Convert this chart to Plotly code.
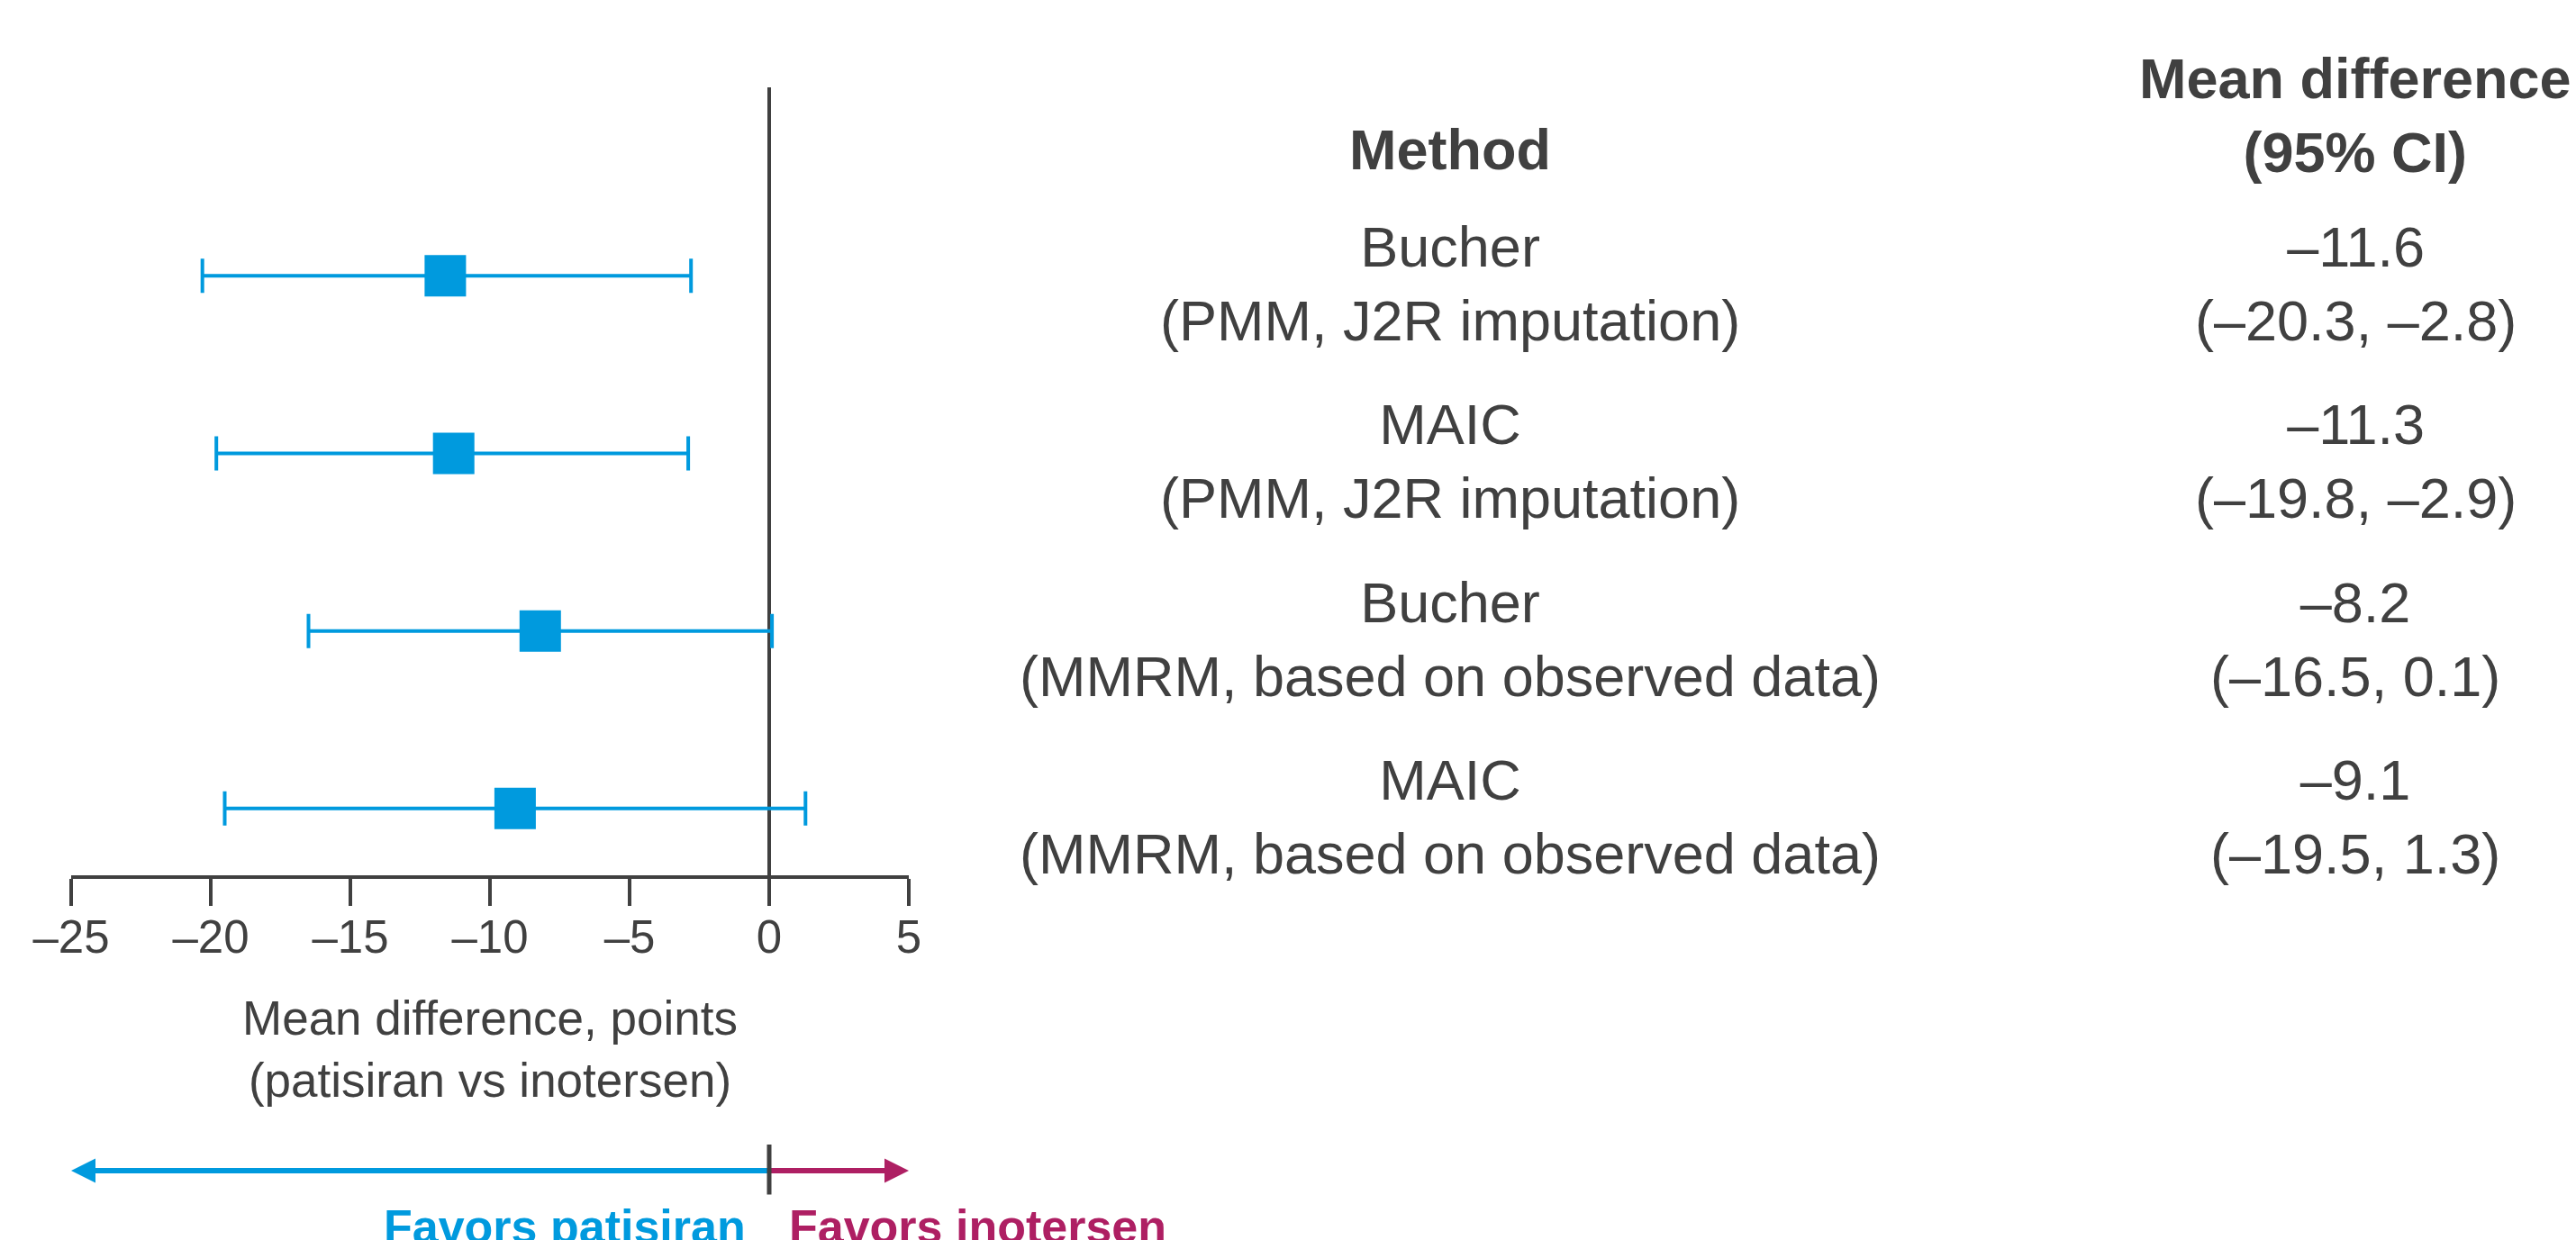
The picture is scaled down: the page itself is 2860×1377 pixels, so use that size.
import plotly.graph_objects as go

# ---------------- data ----------------
methods = ["Bucher", "MAIC", "Bucher", "MAIC"]
submethods = ["(PMM, J2R imputation)", "(PMM, J2R imputation)",
              "(MMRM, based on observed data)", "(MMRM, based on observed data)"]
mean_diff = [-11.6, -11.3, -8.2, -9.1]
ci_low = [-20.3, -19.8, -16.5, -19.5]
ci_high = [-2.8, -2.9, 0.1, 1.3]
tick_vals = [-25, -20, -15, -10, -5, 0, 5]
tick_text = ["–25", "–20", "–15", "–10", "–5", "0", "5"]
x_range = [-25, 5]
header_method = "Method"
header_value = "Mean difference<br>(95% CI)"
axis_title = "Mean difference, points<br>(patisiran vs inotersen)"
favors_left = "Favors patisiran"
favors_right = "Favors inotersen"

# ---------------- style ----------------
W, H = 2860, 1377
BLUE = "#009ADE"
MAGENTA = "#AE1F63"
GREY = "#404040"
FONT = "Liberation Sans, Arial, Helvetica, sans-serif"
TABLE_SIZE = 63

rows = list(range(len(methods)))


def fmt(v):
    return f"{v:.1f}".replace("-", "–")


def py(pix):
    return 1 - pix / H


fig = go.Figure()

fig.add_trace(go.Scatter(
    x=mean_diff, y=rows, mode="markers",
    marker=dict(symbol="square", size=46, color=BLUE, line=dict(width=0)),
    error_x=dict(type="data", symmetric=False,
                 array=[h - m for h, m in zip(ci_high, mean_diff)],
                 arrayminus=[m - l for m, l in zip(mean_diff, ci_low)],
                 color=BLUE, thickness=4, width=19),
    hoverinfo="skip", showlegend=False, cliponaxis=False,
))

y_top, y_bot = -1.061, 3.376

fig.update_layout(
    template="none",
    width=W, height=H,
    margin=dict(l=0, r=0, t=0, b=0, pad=0, autoexpand=False),
    paper_bgcolor="white", plot_bgcolor="white",
    font=dict(family=FONT, color=GREY),
    showlegend=False,
    xaxis=dict(domain=[79 / W, 1009 / W], range=x_range, showgrid=False,
               zeroline=False, showline=True, linecolor=GREY, linewidth=4,
               ticks="outside", ticklen=30, tickwidth=4, tickcolor=GREY,
               tickvals=tick_vals, ticktext=tick_text, automargin=False,
               tickfont=dict(size=51, color=GREY, family=FONT),
               ticklabelstandoff=-9, fixedrange=True),
    yaxis=dict(domain=[py(972), py(97)], range=[y_bot, y_top], visible=False,
               showgrid=False, zeroline=False, fixedrange=True, automargin=False),
)

# zero reference line
fig.add_shape(type="line", xref="x", yref="y domain", x0=0, x1=0, y0=0, y1=1,
              line=dict(color=GREY, width=4), layer="below")

ann = []
# axis title
ann.append(dict(text=axis_title, xref="paper", yref="paper", x=544 / W, y=py(1165),
                xanchor="center", yanchor="middle", showarrow=False,
                font=dict(size=53, color=GREY)))
# table headers
ann.append(dict(text=f"<b>{header_method}</b>", xref="paper", yref="paper",
                x=1610 / W, y=py(166), xanchor="center", yanchor="middle",
                showarrow=False, font=dict(size=TABLE_SIZE, color=GREY)))
ann.append(dict(text=f"<b>{header_value}</b>", xref="paper", yref="paper",
                x=2615 / W, y=py(128), xanchor="center", yanchor="middle",
                showarrow=False, font=dict(size=TABLE_SIZE, color=GREY)))
# table rows
for i, (m, s, md, lo, hi) in enumerate(zip(methods, submethods, mean_diff, ci_low, ci_high)):
    ann.append(dict(text=f"{m}<br>{s}", xref="paper", yref="y", x=1610 / W, y=i,
                    yshift=-9, xanchor="center", yanchor="middle", showarrow=False,
                    font=dict(size=TABLE_SIZE, color=GREY)))
    ann.append(dict(text=f"{fmt(md)}<br>({fmt(lo)}, {fmt(hi)})", xref="paper", yref="y",
                    x=2615 / W, y=i, yshift=-9, xanchor="center", yanchor="middle",
                    showarrow=False, font=dict(size=TABLE_SIZE, color=GREY)))

# favours arrows
arrow_y = py(1300)
ann.append(dict(text="", x=x_range[0], y=arrow_y, xref="x", yref="paper",
                ax=0, ay=0, axref="x", ayref="pixel", showarrow=True,
                arrowhead=2, arrowsize=0.9, arrowwidth=6, arrowcolor=BLUE, standoff=0))
ann.append(dict(text="", x=x_range[1], y=arrow_y, xref="x", yref="paper",
                ax=0, ay=0, axref="x", ayref="pixel", showarrow=True,
                arrowhead=2, arrowsize=0.9, arrowwidth=6, arrowcolor=MAGENTA, standoff=0))
# divider
ann.append(dict(text="", x=0, y=py(1271), xref="x", yref="paper",
                ax=0, ay=57, axref="x", ayref="pixel", showarrow=True,
                arrowhead=0, arrowwidth=5, arrowcolor=GREY, standoff=0))
# favours labels
ann.append(dict(text=f"<b>{favors_left}</b>", x=0, y=py(1362), xref="x", yref="paper",
                xanchor="right", yanchor="middle", xshift=-24, showarrow=False,
                font=dict(size=52, color=BLUE)))
ann.append(dict(text=f"<b>{favors_right}</b>", x=0, y=py(1362), xref="x", yref="paper",
                xanchor="left", yanchor="middle", xshift=20, showarrow=False,
                font=dict(size=52, color=MAGENTA)))

fig.update_layout(annotations=ann)

fig.write_html("out.html", config={"displayModeBar": False, "staticPlot": True},
               post_script="document.body.style.margin='0';")
